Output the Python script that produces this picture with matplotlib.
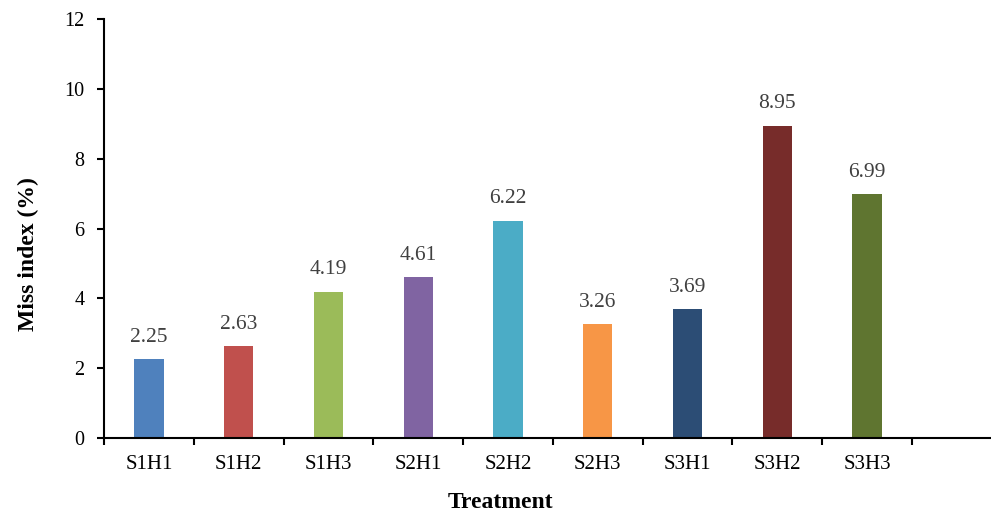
import matplotlib
matplotlib.use("Agg")
import numpy as np
import matplotlib.pyplot as plt

treatments = ["S1H1", "S1H2", "S1H3", "S2H1", "S2H2", "S2H3", "S3H1", "S3H2", "S3H3"]
miss_index = [2.25, 2.63, 4.19, 4.61, 6.22, 3.26, 3.69, 8.95, 6.99]
bar_colors = ["#4F81BD", "#C0504D", "#9BBB59", "#8064A2", "#4BACC6",
              "#F79646", "#2C4D75", "#772C2A", "#5F7530"]

plt.rcParams['font.family'] = ['Liberation Serif', 'DejaVu Serif']

fig = plt.figure(figsize=(9.91, 5.15), dpi=100)
ax = fig.add_axes([0.105, 0.1495, 0.894, 0.8135])

x = np.arange(len(treatments))
ax.bar(x, miss_index, width=0.325, color=bar_colors, zorder=2)

# value labels above each bar
for xi, v in zip(x, miss_index):
    ax.text(xi, v + 0.5, "%.2f" % v, ha="center", va="baseline",
            fontsize=15.5, color="#404040")

ax.set_xlim(-0.5, 9.37)
ax.set_ylim(0, 12)
ax.set_yticks(range(0, 13, 2))
ax.set_xticks(x)
ax.set_xticklabels(treatments, fontsize=15)
ax.set_xticks(np.arange(-0.5, len(treatments), 1.0), minor=True)
ax.tick_params(axis="x", which="major", length=0, pad=12)
ax.tick_params(axis="x", which="minor", length=5, width=1.5, direction="out")
ax.tick_params(axis="y", length=5, width=1.5, direction="out", labelsize=14.5, pad=9)

for side in ["top", "right"]:
    ax.spines[side].set_visible(False)
ax.spines["left"].set_linewidth(1.5)
ax.spines["bottom"].set_linewidth(1.5)

ax.set_ylabel("Miss index (%)", fontsize=17, fontweight="bold", ha="center", va="center")
ax.yaxis.set_label_coords(-0.0858, 0.438)
ax.set_xlabel("Treatment", fontsize=17, fontweight="bold", ha="center", va="baseline")
ax.xaxis.set_label_coords(0.447, -0.168)

plt.savefig("out.png", dpi=100)
